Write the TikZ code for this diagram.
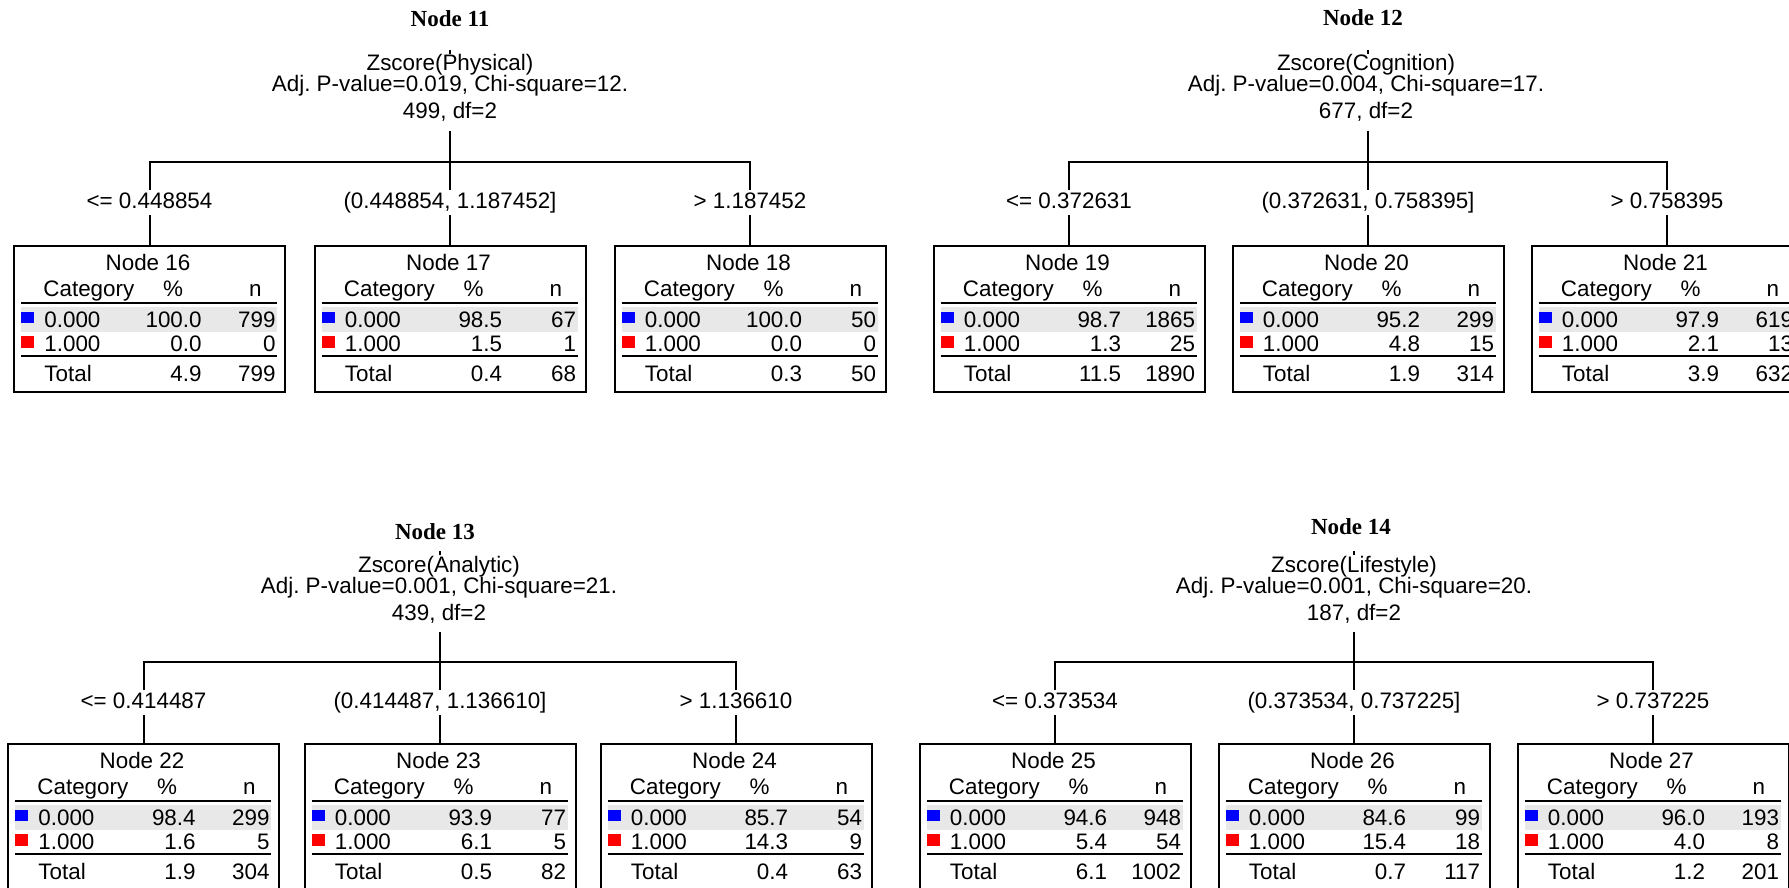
\documentclass[tikz,border=0pt]{standalone}
\usepackage{fontspec}
\setmainfont{Liberation Sans}
\newfontfamily\titlefont{Liberation Serif}
\usepackage{tikz}
\usetikzlibrary{calc}
\frenchspacing
\definecolor{bandgray}{RGB}{232,232,232}
\definecolor{catblue}{RGB}{0,0,255}
\definecolor{catred}{RGB}{255,0,0}

% leaf table: name, position, node number, % and n of 0.000, 1.000, Total
\newcommand{\leaftable}[9]{%
  \node[leafbox] (#1) at #2 {};
  \begin{scope}[shift={(#1.north west)}]
    \fill[bandgray] (8,62) rectangle (264,87);
    \draw[tablerule] (8,58) -- (264,58);
    \draw[tablerule] (8,111) -- (264,111);
    \fill[catblue] (8,67) rectangle (21,78);
    \fill[catred] (8,91) rectangle (21,103);
    \node[cellt, anchor=base] (#1-t) at (135,25) {Node #3};
    \node[cellt, anchor=base west] (#1-c) at (30,51) {Category};
    \node[cellt, anchor=base] (#1-p) at (160,51) {\%};
    \node[cellt, anchor=base east] (#1-n) at (249,51) {n};
    \node[cellt, anchor=base west] (#1-a) at (31,82) {0.000};
    \node[cellt, anchor=base east] (#1-ap) at (189,82) {#4};
    \node[cellt, anchor=base east] (#1-an) at (263,82) {#5};
    \node[cellt, anchor=base west] (#1-b) at (31,106) {1.000};
    \node[cellt, anchor=base east] (#1-bp) at (189,106) {#6};
    \node[cellt, anchor=base east] (#1-bn) at (263,106) {#7};
    \node[cellt, anchor=base west] (#1-s) at (31,136) {Total};
    \node[cellt, anchor=base east] (#1-sp) at (189,136) {#8};
    \node[cellt, anchor=base east] (#1-sn) at (263,136) {#9};
  \end{scope}
}

\begin{document}
\begin{tikzpicture}[x=0.5pt, y=-0.5pt,
    leafbox/.style={draw, line width=1pt, fill=white, minimum width=135.5pt,
                    minimum height=73pt, inner sep=0pt, anchor=north},
    cellt/.style={inner sep=0pt, font=\fontsize{11.2}{13}\selectfont},
    nodetitle/.style={inner sep=0pt, anchor=base,
                      font=\titlefont\bfseries\fontsize{11.5}{13}\selectfont},
    splithead/.style={cellt, anchor=base},
    cutlabel/.style={cellt, anchor=base, fill=white, text height=8pt,
                     text depth=2.5pt, inner xsep=2pt, inner ysep=1pt},
    linkline/.style={line width=1pt},
    tablerule/.style={line width=1.1pt}]
  \clip (0,0) rectangle (1789,888);

  % Node 11
  \node[nodetitle] (n11) at (450,27) {Node 11};
  \node[splithead] (h11a) at (450,71) {Zscore(Physical)};
  \node[splithead] (h11b) at (450,92) {Adj. P-value=0.019, Chi-square=12.};
  \node[splithead] (h11c) at (450,119) {499, df=2};
  \leaftable{b16}{(149.5,245)}{16}{100.0}{799}{0.0}{0}{4.9}{799}
  \leaftable{b17}{(450,245)}{17}{98.5}{67}{1.5}{1}{0.4}{68}
  \leaftable{b18}{(750,245)}{18}{100.0}{50}{0.0}{0}{0.3}{50}
  \coordinate (in11) at (450,50);
  \coordinate (s11) at (450,162);
  \draw[linkline] (in11) -- (h11a.north);
  \draw[linkline] (b16.north) |- (s11) -| (b18.north);
  \draw[linkline, shorten <=4.3pt] (h11c.south) -- (b17.north);
  \node[cutlabel] (l16) at (149.5,208) {<= 0.448854};
  \node[cutlabel] (l17) at (450,208) {(0.448854, 1.187452]};
  \node[cutlabel] (l18) at (750,208) {> 1.187452};

  % Node 12
  \node[nodetitle] (n12) at (1363,26) {Node 12};
  \node[splithead] (h12a) at (1366,71) {Zscore(Cognition)};
  \node[splithead] (h12b) at (1366,92) {Adj. P-value=0.004, Chi-square=17.};
  \node[splithead] (h12c) at (1366,119) {677, df=2};
  \leaftable{b19}{(1069,245)}{19}{98.7}{1865}{1.3}{25}{11.5}{1890}
  \leaftable{b20}{(1368,245)}{20}{95.2}{299}{4.8}{15}{1.9}{314}
  \leaftable{b21}{(1667,245)}{21}{97.9}{619}{2.1}{13}{3.9}{632}
  \coordinate (in12) at (1368,50);
  \coordinate (s12) at (1368,162);
  \draw[linkline] (in12) -- (in12 |- h12a.north);
  \draw[linkline] (b19.north) |- (s12) -| (b21.north);
  \draw[linkline, shorten <=4.3pt] (h12c.south -| b20.north) -- (b20.north);
  \node[cutlabel] (l19) at (1069,208) {<= 0.372631};
  \node[cutlabel] (l20) at (1368,208) {(0.372631, 0.758395]};
  \node[cutlabel] (l21) at (1667,208) {> 0.758395};

  % Node 13
  \node[nodetitle] (n13) at (435,539) {Node 13};
  \node[splithead] (h13a) at (439,572) {Zscore(Analytic)};
  \node[splithead] (h13b) at (439,593) {Adj. P-value=0.001, Chi-square=21.};
  \node[splithead] (h13c) at (439,620) {439, df=2};
  \leaftable{b22}{(143.5,743)}{22}{98.4}{299}{1.6}{5}{1.9}{304}
  \leaftable{b23}{(440,743)}{23}{93.9}{77}{6.1}{5}{0.5}{82}
  \leaftable{b24}{(736,743)}{24}{85.7}{54}{14.3}{9}{0.4}{63}
  \coordinate (in13) at (440,551);
  \coordinate (s13) at (440,662);
  \draw[linkline] (in13) -- (in13 |- h13a.north);
  \draw[linkline] (b22.north) |- (s13) -| (b24.north);
  \draw[linkline, shorten <=4.3pt] (h13c.south -| b23.north) -- (b23.north);
  \node[cutlabel] (l22) at (143.5,708) {<= 0.414487};
  \node[cutlabel] (l23) at (440,708) {(0.414487, 1.136610]};
  \node[cutlabel] (l24) at (736,708) {> 1.136610};

  % Node 14
  \node[nodetitle] (n14) at (1351,534) {Node 14};
  \node[splithead] (h14a) at (1354,572) {Zscore(Lifestyle)};
  \node[splithead] (h14b) at (1354,593) {Adj. P-value=0.001, Chi-square=20.};
  \node[splithead] (h14c) at (1354,620) {187, df=2};
  \leaftable{b25}{(1055,743)}{25}{94.6}{948}{5.4}{54}{6.1}{1002}
  \leaftable{b26}{(1354,743)}{26}{84.6}{99}{15.4}{18}{0.7}{117}
  \leaftable{b27}{(1653,743)}{27}{96.0}{193}{4.0}{8}{1.2}{201}
  \coordinate (in14) at (1354,551);
  \coordinate (s14) at (1354,662);
  \draw[linkline] (in14) -- (h14a.north);
  \draw[linkline] (b25.north) |- (s14) -| (b27.north);
  \draw[linkline, shorten <=4.3pt] (h14c.south) -- (b26.north);
  \node[cutlabel] (l25) at (1055,708) {<= 0.373534};
  \node[cutlabel] (l26) at (1354,708) {(0.373534, 0.737225]};
  \node[cutlabel] (l27) at (1653,708) {> 0.737225};
\end{tikzpicture}
\end{document}
